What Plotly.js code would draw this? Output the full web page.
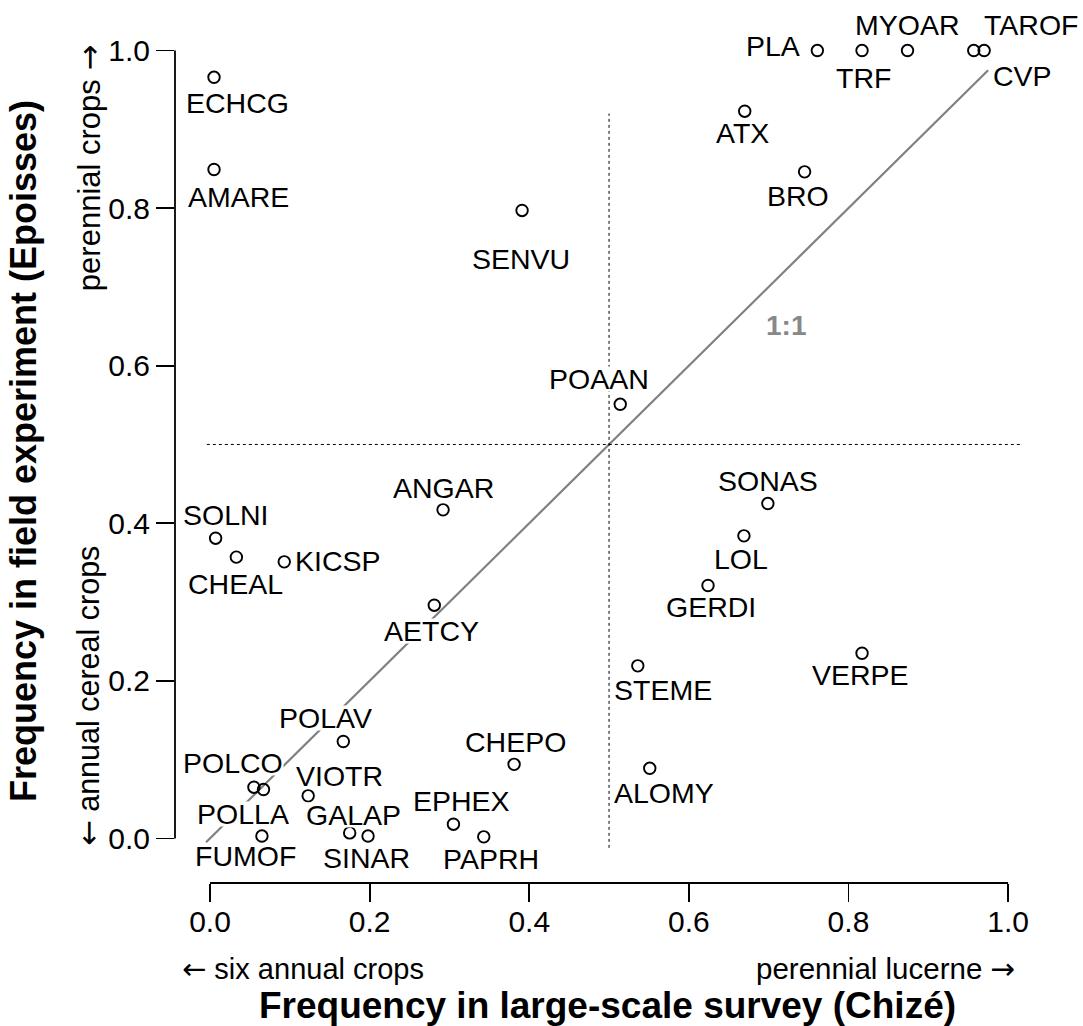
<!DOCTYPE html>
<html>
<head>
<meta charset="utf-8">
<script src="https://cdn.plot.ly/plotly-3.0.1.min.js"></script>
<style>html,body{margin:0;padding:0;background:#fff;}#chart{width:1083px;height:1026px;}</style>
</head>
<body>
<div id="chart"></div>
<script>
// ---- data ----
const species = ["ECHCG","AMARE","SENVU","PLA","TRF","MYOAR","TAROF","CVP","ATX","BRO",
  "POAAN","ANGAR","SOLNI","CHEAL","KICSP","AETCY","SONAS","LOL","GERDI","VERPE",
  "STEME","ALOMY","POLAV","CHEPO","POLCO","POLLA","VIOTR","GALAP","SINAR","EPHEX",
  "FUMOF","PAPRH"];
const freqSurvey = [0.005,0.005,0.391,0.761,0.817,0.874,0.970,0.957,0.670,0.745,
  0.514,0.292,0.007,0.033,0.093,0.281,0.699,0.669,0.624,0.817,
  0.536,0.551,0.167,0.381,0.055,0.067,0.123,0.175,0.198,0.305,
  0.065,0.343];
const freqField = [0.966,0.849,0.797,1.000,1.000,1.000,1.000,1.000,0.923,0.846,
  0.551,0.417,0.381,0.357,0.351,0.296,0.425,0.384,0.321,0.235,
  0.219,0.089,0.123,0.094,0.065,0.062,0.054,0.007,0.003,0.018,
  0.003,0.002];
const xTicks = [0,0.2,0.4,0.6,0.8,1.0];
const xTickText = ["0.0","0.2","0.4","0.6","0.8","1.0"];
const yTicks = [0,0.2,0.4,0.6,0.8,1.0];
const yTickText = ["0.0","0.2","0.4","0.6","0.8","1.0"];
const oneToOne = [-0.005, 0.975];
const splitValue = 0.5;

// ---- label placement (pixel offsets of each label from its point) ----
const labelDx = [23.5,24.8,-0.7,-44.3,1.3,-0.2,47.3,49,-2.6,-6.3,
  -21.7,0.4,10.3,-0.5,53.5,-2.7,-0.2,-3.2,2.8,-1.2,
  24.8,14,-18.3,1.5,-20.7,-20.3,31.3,3.5,-1.3,7.6,
  -16.2,7.3];
const labelDy = [25.3,27.3,48.5,-4.9,27.3,-25.2,-25.2,25.1,22.3,23.8,
  -25.5,-22.2,-23.3,26.9,-0.6,25.5,-22.8,23.4,21.5,21.3,
  24.5,25.2,-23.2,-22.1,-24.4,24.2,-20.1,-17.5,21.5,-23.5,
  19.5,21.9];

const FONT = "Liberation Sans, Arial, Helvetica, sans-serif";
const arrow = ch => '<span style="font-family:DejaVu Sans">' + ch + '</span>';

const traces = [
  {x: oneToOne, y: oneToOne, mode: "lines", line: {color: "#808080", width: 2.2},
   hoverinfo: "skip", showlegend: false},
  {x: [-0.004, 1.015], y: [splitValue, splitValue], mode: "lines",
   line: {color: "#000", width: 1, dash: "dot"}, hoverinfo: "skip", showlegend: false},
  {x: [splitValue, splitValue], y: [-0.012, 0.92], mode: "lines",
   line: {color: "#000", width: 1, dash: "dot"}, hoverinfo: "skip", showlegend: false},
  {x: freqSurvey, y: freqField, text: species, mode: "markers", type: "scatter",
   marker: {symbol: "circle-open", size: 11.5, color: "#000", line: {width: 1.9, color: "#000"}},
   showlegend: false}
];

const annotations = species.map((s, i) => ({
  x: freqSurvey[i], y: freqField[i], xref: "x", yref: "y",
  text: s, showarrow: false, xanchor: "center", yanchor: "middle",
  xshift: labelDx[i], yshift: -labelDy[i],
  font: {family: FONT, size: 28.5, color: "#000"},
  bgcolor: "#fff", borderpad: 0, height: 24
}));
annotations.push(
  {x: 0.722, y: 0.651, xref: "x", yref: "y", text: "<b>1:1</b>", showarrow: false,
   font: {family: FONT, size: 28, color: "#888"}},
  {x: -0.0376, y: 0, xref: "x", yref: "paper", text: arrow("\u2190") + " six annual crops", showarrow: false,
   xanchor: "left", yanchor: "middle", yshift: -86, font: {family: FONT, size: 29, color: "#000"}},
  {x: 1.011, y: 0, xref: "x", yref: "paper", text: "perennial lucerne " + arrow("\u2192"), showarrow: false,
   xanchor: "right", yanchor: "middle", yshift: -86, font: {family: FONT, size: 29.5, color: "#000"}},
  {x: 0, y: -0.012, xref: "paper", yref: "y", text: arrow("\u2190") + " annual cereal crops", showarrow: false,
   textangle: -90, xanchor: "center", yanchor: "bottom", xshift: -86,
   font: {family: FONT, size: 30.5, color: "#000"}},
  {x: 0, y: 1.01, xref: "paper", yref: "y", text: "perennial crops " + arrow("\u2192"), showarrow: false,
   textangle: -90, xanchor: "center", yanchor: "top", xshift: -86,
   font: {family: FONT, size: 31, color: "#000"}}
);

const shapes = [
  {type: "line", xref: "x", yref: "paper", x0: 0, x1: 1, y0: 0, y1: 0,
   line: {color: "#000", width: 1.8}},
  {type: "line", xref: "paper", yref: "y", x0: 0, x1: 0, y0: 0, y1: 1,
   line: {color: "#000", width: 1.8}}
];

const layout = {
  width: 1083, height: 1026,
  margin: {l: 175, r: 43, t: 19, b: 143},
  paper_bgcolor: "#fff", plot_bgcolor: "#fff",
  font: {family: FONT, color: "#000"},
  showlegend: false,
  xaxis: {
    range: [-0.0439, 1.04], showgrid: false, zeroline: false, showline: false,
    tickvals: xTicks, ticktext: xTickText, ticks: "outside", ticklen: 18, tickwidth: 1.8,
    tickcolor: "#000", tickfont: {family: FONT, size: 30, color: "#000"},
    ticklabelstandoff: -6,
    title: {text: "<b>Frequency in large-scale survey (Chizé)</b>", standoff: 55,
            font: {family: FONT, size: 37, color: "#000"}},
    automargin: false, fixedrange: true
  },
  yaxis: {
    range: [-0.0566, 1.04], showgrid: false, zeroline: false, showline: false,
    tickvals: yTicks, ticktext: yTickText, ticks: "outside", ticklen: 18, tickwidth: 1.8,
    tickcolor: "#000", tickfont: {family: FONT, size: 30, color: "#000"},
    title: {text: "<b>Frequency in field experiment (Epoisses)</b>", standoff: 60,
            font: {family: FONT, size: 36, color: "#000"}},
    automargin: false, fixedrange: true
  },
  annotations: annotations,
  shapes: shapes
};

Plotly.newPlot("chart", traces, layout, {displayModeBar: false, staticPlot: true});
</script>
</body>
</html>
